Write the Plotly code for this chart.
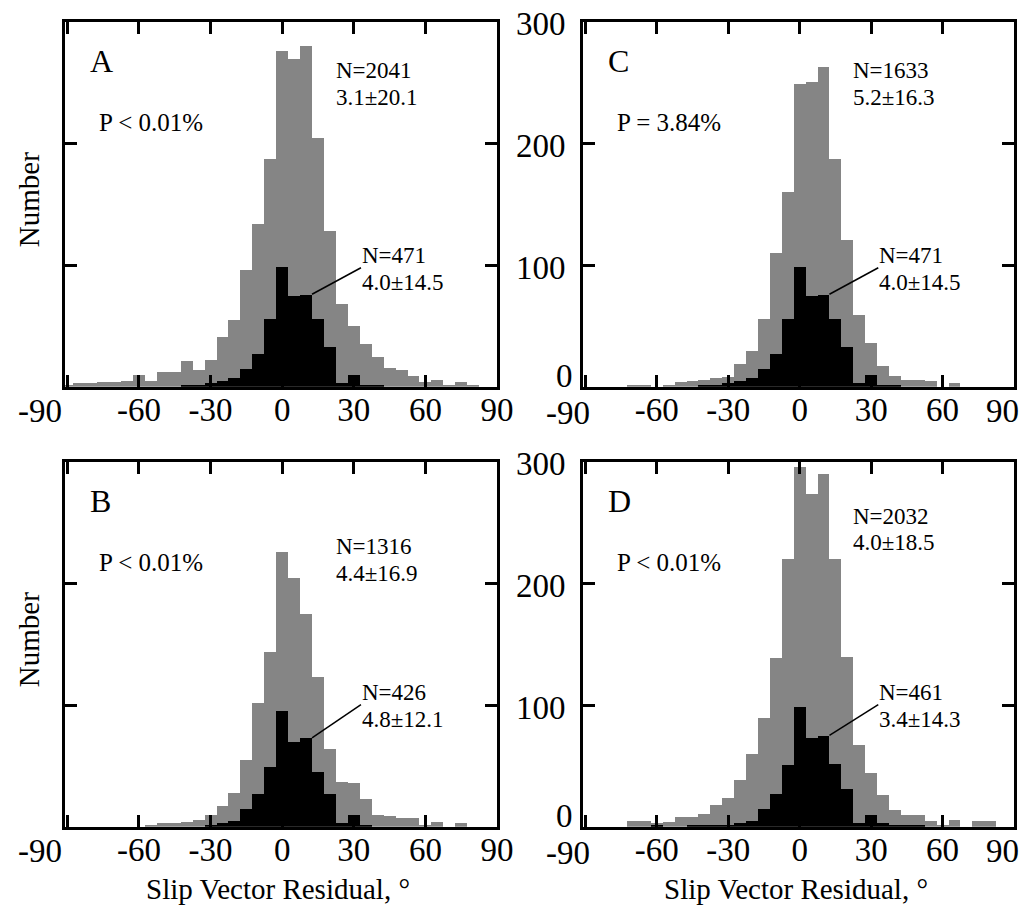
import plotly.graph_objects as go

# ---------------- data ----------------
bin_centers = [-90, -85, -80, -75, -70, -65, -60, -55, -50, -45, -40, -35, -30,
               -25, -20, -15, -10, -5, 0, 5, 10, 15, 20, 25, 30, 35, 40, 45,
               50, 55, 60, 65, 70, 75, 80, 85, 90]

gray_A = [2, 3, 3, 4, 4, 5, 10, 5, 12, 12, 21, 14, 22, 41, 55, 96, 134, 187,
          276, 270, 280, 205, 128, 68, 50, 35, 25, 16, 14, 9, 4, 6, 1, 4, 1, 0, 0]
black_A = [0, 0, 0, 0, 0, 0, 0, 0, 0, 0, 1, 2, 3, 5, 7, 15, 27, 56,
           99, 75, 76, 56, 33, 3, 10, 2, 1, 0, 0, 0, 0, 0, 0, 0, 0, 0, 0]

gray_B = [0, 0, 0, 0, 0, 0, 0, 2, 3, 3, 4, 6, 10, 17, 28, 55, 102, 144,
          226, 205, 175, 123, 64, 37, 36, 23, 10, 9, 7, 7, 2, 4, 0, 3, 0, 0, 0]
black_B = [0, 0, 0, 0, 0, 0, 0, 0, 0, 0, 0, 0, 2, 3, 5, 15, 27, 49,
           95, 70, 73, 45, 27, 3, 10, 2, 0, 0, 0, 0, 0, 0, 0, 0, 0, 0, 0]

gray_C = [0, 0, 0, 0, 1, 2, 0, 1, 4, 5, 6, 7, 8, 19, 30, 56, 110, 160,
          249, 251, 263, 187, 121, 59, 36, 17, 9, 6, 6, 5, 0, 3, 0, 0, 0, 0, 0]
black_C = [0, 0, 0, 0, 0, 0, 0, 0, 0, 0, 1, 2, 3, 5, 7, 15, 27, 56,
           99, 75, 76, 56, 33, 3, 10, 2, 1, 0, 0, 0, 0, 0, 0, 0, 0, 0, 0]

gray_D = [0, 0, 0, 0, 5, 5, 3, 4, 8, 8, 11, 18, 24, 39, 60, 90, 139, 220,
          296, 274, 290, 220, 140, 67, 44, 26, 14, 10, 10, 5, 2, 6, 0, 5, 5, 0, 0]
black_D = [0, 0, 0, 0, 0, 0, 1, 0, 0, 1, 1, 2, 2, 3, 5, 15, 27, 51,
           99, 73, 75, 52, 31, 3, 10, 3, 2, 1, 1, 0, 0, 0, 0, 0, 0, 0, 0]

x_tickvals = [-90, -60, -30, 0, 30, 60, 90]
x_ticktext = ["-90", "-60", "-30", "0", "30", "60", "90"]
y_tickvals = [0, 100, 200, 300]
y_ticktext = ["0", "100", "200", "300"]

panel_letters = ["A", "B", "C", "D"]
p_texts = ["P < 0.01%", "P < 0.01%", "P = 3.84%", "P < 0.01%"]
all_stats = [("N=2041", "3.1±20.1"), ("N=1316", "4.4±16.9"),
             ("N=1633", "5.2±16.3"), ("N=2032", "4.0±18.5")]
sub_stats = [("N=471", "4.0±14.5"), ("N=426", "4.8±12.1"),
             ("N=471", "4.0±14.5"), ("N=461", "3.4±14.3")]
x_title = "Slip Vector Residual, \u00b0"
y_title = "Number"

# ---------------- layout helpers ----------------
W, H = 1026, 912
FONT = "Liberation Serif, Times New Roman, serif"
GRAY = "#858585"
TICK_SIZE = 33
STAT_SIZE = 23


def xdom(left, right):
    return [left / W, right / W]


def ydom(top, bottom):
    return [1 - bottom / H, 1 - top / H]


# panel -> (axis suffix, x domain px, y domain px, show y labels, all-stats y, sub-stats y,
#           pixel centre of the end labels (-90, 90) when they are nudged)
panels = {
    "A": ("", (65, 497), (21.7, 386.7), False, (259.5, 238), (107.5, 86), (40, None)),
    "C": ("2", (583, 1014), (21.7, 386.7), True, (259.5, 238), (107.5, 86), (568, 1002)),
    "B": ("3", (65, 497), (461.7, 826.7), False, (230, 208.5), (110, 88.5), (40, None)),
    "D": ("4", (583, 1014), (461.7, 826.7), True, (255, 233.5), (110, 88.5), (568, 1002)),
}
grays = {"A": gray_A, "B": gray_B, "C": gray_C, "D": gray_D}
blacks = {"A": black_A, "B": black_B, "C": black_C, "D": black_D}

fig = go.Figure()
annotations = []
shapes = []

for idx, letter in enumerate(panel_letters):
    suf, xd, yd, show_ylab, st_y, sub_y, edge_px = panels[letter]
    xa, ya = "x" + suf, "y" + suf
    fig.add_trace(go.Bar(x=bin_centers, y=grays[letter], width=5,
                         marker=dict(color=GRAY, line=dict(width=0)),
                         xaxis=xa, yaxis=ya, showlegend=False))
    fig.add_trace(go.Bar(x=bin_centers, y=blacks[letter], width=5,
                         marker=dict(color="black", line=dict(width=0)),
                         xaxis=xa, yaxis=ya, showlegend=False))

    # end labels that are nudged sideways are drawn as annotations
    shown_text = list(x_ticktext)
    for pos, px in zip((0, len(x_ticktext) - 1), edge_px):
        if px is not None:
            shown_text[pos] = ""
            # the left label of the right-hand panels sits just under the y "0" label
            label_y_px = yd[1] + (26 if (show_ylab and pos == 0) else 24)
            annotations.append(dict(x=px / W, y=1 - label_y_px / H, xref="paper", yref="paper",
                                    text=x_ticktext[pos], showarrow=False,
                                    xanchor="center", yanchor="middle",
                                    font=dict(family=FONT, size=TICK_SIZE, color="black")))

    # the y "0" label sits a little above its tick in the reference
    shown_y = list(y_ticktext)
    if show_ylab:
        shown_y[0] = ""
        annotations.append(dict(x=(xd[0] - 8) / W, y=1 - (yd[1] - 11) / H, xref="paper", yref="paper",
                                text=y_ticktext[0], showarrow=False,
                                xanchor="right", yanchor="middle",
                                font=dict(family=FONT, size=TICK_SIZE, color="black")))

    axis_common = dict(ticks="inside", ticklen=12, tickwidth=3, tickcolor="black",
                       showline=True, linewidth=3, linecolor="black", mirror="ticks",
                       showgrid=False, zeroline=False, automargin=False,
                       ticklabeloverflow="allow",
                       tickfont=dict(family=FONT, size=TICK_SIZE, color="black"))
    fig.update_layout(**{
        "xaxis" + suf: dict(domain=xdom(*xd), anchor=ya, range=[-91, 90],
                            tickmode="array", tickvals=x_tickvals, ticktext=shown_text,
                            ticklabelstandoff=-8, **axis_common),
        "yaxis" + suf: dict(domain=ydom(*yd), anchor=xa, range=[0, 300],
                            tickmode="array", tickvals=y_tickvals, ticktext=shown_y,
                            showticklabels=show_ylab, ticklabelstandoff=8,
                            ticklabelshift=2, **axis_common),
    })

    xr, yr = xa, ya
    annotations.append(dict(x=-81.5, y=268, xref=xr, yref=yr, text=letter, showarrow=False,
                            xanchor="left", yanchor="middle",
                            font=dict(family=FONT, size=32, color="black")))
    annotations.append(dict(x=-77.5, y=217, xref=xr, yref=yr, text=p_texts[idx], showarrow=False,
                            xanchor="left", yanchor="middle",
                            font=dict(family=FONT, size=25, color="black")))
    for line_txt, yy in zip(all_stats[idx], st_y):
        annotations.append(dict(x=21.5, y=yy, xref=xr, yref=yr, text=line_txt, showarrow=False,
                                xanchor="left", yanchor="middle",
                                font=dict(family=FONT, size=STAT_SIZE, color="black")))
    for line_txt, yy in zip(sub_stats[idx], sub_y):
        annotations.append(dict(x=32.5, y=yy, xref=xr, yref=yr, text=line_txt, showarrow=False,
                                xanchor="left", yanchor="middle",
                                font=dict(family=FONT, size=STAT_SIZE, color="black")))
    # leader line from the top-right corner of the 10-degree black bar to the label
    b10 = blacks[letter][bin_centers.index(10)]
    shapes.append(dict(type="line", xref=xr, yref=yr, x0=12.5, y0=b10,
                       x1=33, y1=(sub_y[0] + sub_y[1]) / 2 + 1,
                       line=dict(color="black", width=1.5)))

# axis titles
for yc in [(21.7 + 386.7) / 2, (461.7 + 826.7) / 2]:
    annotations.append(dict(x=29 / W, y=1 - (yc - 4) / H, xref="paper", yref="paper", text=y_title,
                            textangle=-90, showarrow=False, xanchor="center", yanchor="middle",
                            font=dict(family=FONT, size=29, color="black")))
for xc in [(65 + 497) / 2, (583 + 1014) / 2]:
    annotations.append(dict(x=(xc - 3) / W, y=1 - 889 / H, xref="paper", yref="paper", text=x_title,
                            showarrow=False, xanchor="center", yanchor="middle",
                            font=dict(family=FONT, size=29, color="black")))

fig.update_layout(width=W, height=H, margin=dict(l=0, r=0, t=0, b=0),
                  barmode="overlay", bargap=0, plot_bgcolor="white", paper_bgcolor="white",
                  annotations=annotations, shapes=shapes, showlegend=False,
                  font=dict(family=FONT, color="black"))

# remove the browser's default 8px page margin so the 1026x912 figure fills the window
fig.write_html("out.html", config={"displayModeBar": False},
               post_script="document.body.style.margin='0';document.body.style.padding='0';"
                           "document.body.style.overflow='hidden';")
